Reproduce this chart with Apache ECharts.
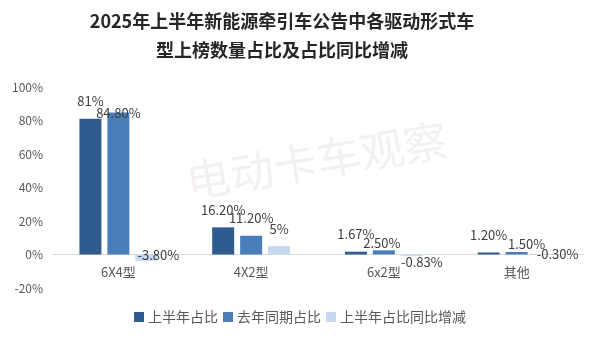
<!DOCTYPE html>
<html>
<head>
<meta charset="utf-8">
<script src="https://cdn.jsdelivr.net/npm/echarts@6/dist/echarts.min.js"></script>
<style>
html,body{margin:0;padding:0;background:#fff;}
#chart{width:600px;height:340px;}
</style>
</head>
<body>
<div id="chart"></div>
<script>
const titleText = '2025年上半年新能源牵引车公告中各驱动形式车\n型上榜数量占比及占比同比增减';
const categories = ['6X4型', '4X2型', '6x2型', '其他'];
const seriesNames = ['上半年占比', '去年同期占比', '上半年占比同比增减'];
const firstHalf = [81, 16.2, 1.67, 1.2];
const lastYear = [84.8, 11.2, 2.5, 1.5];
const change = [-3.8, 5, -0.83, -0.3];
const labelsFirstHalf = ['81%', '16.20%', '1.67%', '1.20%'];
const labelsLastYear = ['84.80%', '11.20%', '2.50%', '1.50%'];
const labelsChange = ['-3.80%', '5%', '-0.83%', '-0.30%'];
const yTicks = [-20, 0, 20, 40, 60, 80, 100];
const colors = ['#2F5B8F', '#4A7EBB', '#C6D9F0'];

// label offsets (Excel-style manual placement)
const offFirst = [[0,0],[0,0],[0,0],[0,0]];
const offLast = [[0,18],[0,0],[-2,10],[10,10]];
const offChange = [[12,-12],[0,0],[10,0],[13,-7]];

const FONT = '"Noto Sans CJK SC", "Noto Sans", sans-serif';

function buildData(vals, labels, offs) {
  return vals.map((v, i) => ({
    value: v,
    label: {
      show: true,
      position: v < 0 ? 'bottom' : 'top',
      distance: v < 0 ? 0 : 11,
      offset: offs[i],
      formatter: labels[i],
      fontSize: 13,
      color: '#404040',
      fontFamily: FONT
    }
  }));
}

const chart = echarts.init(document.getElementById('chart'), null, {renderer: 'canvas'});
const barCommon = {
  type: 'bar',
  barWidth: 22,
  barGap: '27%',
  barCategoryGap: '41%'
};
chart.setOption({
  backgroundColor: '#fff',
  animation: false,
  title: {
    text: titleText,
    left: 277,
    textAlign: 'center',
    top: 2,
    textStyle: {
      fontFamily: FONT,
      fontSize: 18,
      fontWeight: 'bold',
      color: '#262626',
      lineHeight: 29
    }
  },
  legend: {
    data: seriesNames,
    bottom: 11,
    left: 'center',
    icon: 'rect',
    itemWidth: 10,
    itemHeight: 10,
    itemGap: 5,
    textStyle: {fontSize: 14, color: '#595959', fontFamily: FONT, padding: [0,0,0,-1]}
  },
  graphic: [{
    type: 'text',
    left: 183,
    top: 117,
    rotation: 0.165,
    z: 0,
    style: {
      text: '电动卡车观察',
      fontSize: 44,
      fontFamily: FONT,
      fill: 'rgba(220,205,205,0.3)'
    }
  }],
  grid: {left: 52, right: 17, top: 87, bottom: 52, containLabel: false},
  xAxis: {
    type: 'category',
    data: categories,
    axisLine: {onZero: true, lineStyle: {color: '#D9D9D9', width: 1}},
    axisTick: {show: false},
    axisLabel: {fontSize: 13, color: '#595959', fontFamily: FONT, margin: -22}
  },
  yAxis: {
    type: 'value',
    min: yTicks[0],
    max: yTicks[yTicks.length - 1],
    interval: 20,
    splitLine: {show: false},
    axisLine: {show: false},
    axisTick: {show: false},
    axisLabel: {formatter: '{value}%', fontSize: 12, color: '#595959', fontFamily: FONT, margin: 9}
  },
  series: [
    Object.assign({}, barCommon, {name: seriesNames[0], itemStyle: {color: colors[0]}, data: buildData(firstHalf, labelsFirstHalf, offFirst)}),
    Object.assign({}, barCommon, {name: seriesNames[1], itemStyle: {color: colors[1]}, data: buildData(lastYear, labelsLastYear, offLast)}),
    Object.assign({}, barCommon, {name: seriesNames[2], itemStyle: {color: colors[2]}, data: buildData(change, labelsChange, offChange)})
  ]
});
</script>
</body>
</html>
